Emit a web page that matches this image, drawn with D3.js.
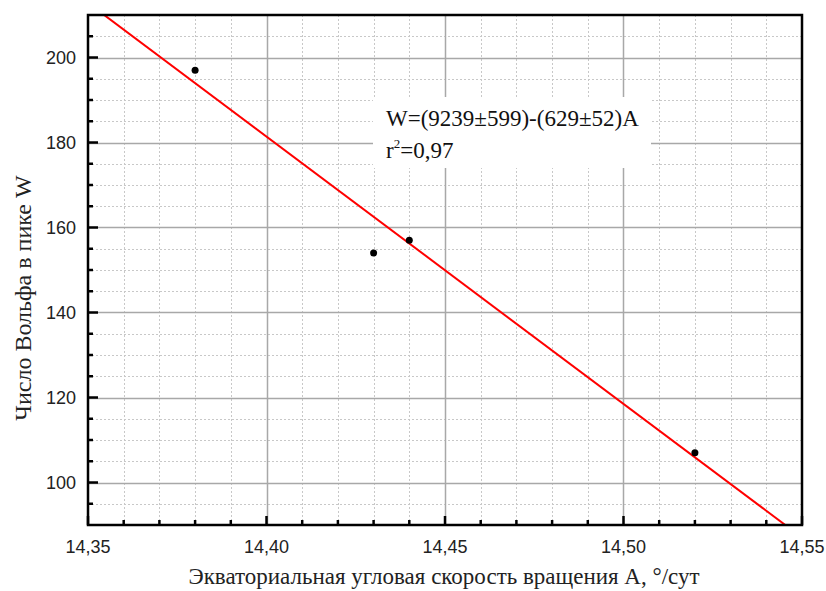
<!DOCTYPE html>
<html>
<head>
<meta charset="utf-8">
<script src="https://cdnjs.cloudflare.com/ajax/libs/d3/7.8.5/d3.min.js"></script>
<style>
  body { margin: 0; background: #fff; }
  svg { display: block; }
</style>
</head>
<body>
<svg id="chart" width="826" height="591"></svg>
<script>
// measured points
var rotationA = [14.38, 14.43, 14.44, 14.52];
var wolfW = [197, 154, 157, 107];
// fit W = a + b*A
var fitCoef = [9239, -629];
var xTicks = [14.35, 14.40, 14.45, 14.50, 14.55];
var yTicks = [100, 120, 140, 160, 180, 200];
var fitLines = ["W=(9239\u00b1599)-(629\u00b152)A", "r", "=0,97"];

(function() {
var pLeft = 88, pRight = 802, pTop = 15, pBottom = 525;
var svg = d3.select("#chart");

var x = d3.scaleLinear().domain([14.35, 14.55]).range([pLeft, pRight]);
var y = d3.scaleLinear().domain([90, 210]).range([pBottom, pTop]);

var xMinor = d3.range(14.36, 14.55, 0.01).filter(function(v) {
  return Math.abs(v * 20 - Math.round(v * 20)) > 1e-6;
});
var yMinor = d3.range(95, 210, 5).filter(function(v) { return v % 20 != 0; });
var xMajorInner = xTicks.slice(1, -1);

// grid
var grid = svg.append("g");
grid.selectAll(".vminor").data(xMinor).enter().append("line")
  .attr("x1", function(d) { return Math.round(x(d)) + 0.5; })
  .attr("x2", function(d) { return Math.round(x(d)) + 0.5; })
  .attr("y1", pTop).attr("y2", pBottom)
  .attr("stroke", "#c8c8c8").attr("stroke-dasharray", "2,2");
grid.selectAll(".hminor").data(yMinor).enter().append("line")
  .attr("y1", function(d) { return Math.round(y(d)) + 0.5; })
  .attr("y2", function(d) { return Math.round(y(d)) + 0.5; })
  .attr("x1", pLeft).attr("x2", pRight)
  .attr("stroke", "#c8c8c8").attr("stroke-dasharray", "2,2");
grid.selectAll(".vmajor").data(xMajorInner).enter().append("line")
  .attr("x1", function(d) { return Math.round(x(d)) + 0.5; })
  .attr("x2", function(d) { return Math.round(x(d)) + 0.5; })
  .attr("y1", pTop).attr("y2", pBottom)
  .attr("stroke", "#a8a8a8").attr("stroke-width", 1.5);
grid.selectAll(".hmajor").data(yTicks).enter().append("line")
  .attr("y1", function(d) { return Math.round(y(d)) + 0.5; })
  .attr("y2", function(d) { return Math.round(y(d)) + 0.5; })
  .attr("x1", pLeft).attr("x2", pRight)
  .attr("stroke", "#a8a8a8").attr("stroke-width", 1.5);

// white box behind the equation
svg.append("rect")
  .attr("x", 373).attr("y", 97).attr("width", 278).attr("height", 71)
  .attr("fill", "#fff");

// fit line, clipped to the frame
svg.append("clipPath").attr("id", "plotClip").append("rect")
  .attr("x", pLeft).attr("y", pTop).attr("width", pRight - pLeft).attr("height", pBottom - pTop);
var fitX = x.domain();
svg.append("line")
  .attr("clip-path", "url(#plotClip)")
  .attr("x1", x(fitX[0])).attr("y1", y(fitCoef[0] + fitCoef[1] * fitX[0]))
  .attr("x2", x(fitX[1])).attr("y2", y(fitCoef[0] + fitCoef[1] * fitX[1]))
  .attr("stroke", "#ff0000").attr("stroke-width", 2);

// points
svg.selectAll(".pt").data(rotationA).enter().append("circle")
  .attr("cx", function(d) { return x(d); })
  .attr("cy", function(d, i) { return y(wolfW[i]); })
  .attr("r", 3.5).attr("fill", "#000");

// frame
svg.append("rect")
  .attr("x", pLeft).attr("y", pTop).attr("width", pRight - pLeft).attr("height", pBottom - pTop)
  .attr("fill", "none").attr("stroke", "#000").attr("stroke-width", 2.5);

// ticks (pointing inward)
var ticks = svg.append("g").attr("stroke", "#000").attr("stroke-width", 2.5);
ticks.selectAll(".xt").data(xTicks).enter().append("line")
  .attr("x1", function(d) { return x(d); }).attr("x2", function(d) { return x(d); })
  .attr("y1", pBottom).attr("y2", pBottom - 9);
ticks.selectAll(".xm").data(xMinor).enter().append("line")
  .attr("x1", function(d) { return x(d); }).attr("x2", function(d) { return x(d); })
  .attr("y1", pBottom).attr("y2", pBottom - 5);
ticks.selectAll(".yt").data(yTicks).enter().append("line")
  .attr("y1", function(d) { return y(d); }).attr("y2", function(d) { return y(d); })
  .attr("x1", pLeft).attr("x2", pLeft + 10);
ticks.selectAll(".ym").data(yMinor).enter().append("line")
  .attr("y1", function(d) { return y(d); }).attr("y2", function(d) { return y(d); })
  .attr("x1", pLeft).attr("x2", pLeft + 5);

// tick labels
var fmt = function(d) { return d3.format(".2f")(d).replace(".", ","); };
svg.selectAll(".xl").data(xTicks).enter().append("text")
  .attr("x", function(d) { return x(d); }).attr("y", 553)
  .attr("text-anchor", "middle")
  .style("font", "18px 'Liberation Sans', Arial, sans-serif")
  .attr("fill", "#222")
  .text(fmt);
svg.selectAll(".yl").data(yTicks).enter().append("text")
  .attr("x", 76).attr("y", function(d) { return y(d) + 6; })
  .attr("text-anchor", "end")
  .style("font", "18px 'Liberation Sans', Arial, sans-serif")
  .attr("fill", "#222")
  .text(function(d) { return d; });

// axis titles
svg.append("text")
  .attr("x", 444).attr("y", 584)
  .attr("text-anchor", "middle")
  .style("font", "23px 'Liberation Serif', 'Times New Roman', serif")
  .attr("fill", "#222")
  .text("Экваториальная угловая скорость вращения A, \u00b0/сут");
svg.append("text")
  .attr("transform", "translate(31,298) rotate(-90)")
  .attr("text-anchor", "middle")
  .style("font", "24px 'Liberation Serif', 'Times New Roman', serif")
  .attr("fill", "#222")
  .text("Число Вольфа в пике W");

// equation
var eq = svg.append("g")
  .style("font", "23px 'Liberation Serif', 'Times New Roman', serif")
  .attr("fill", "#111");
eq.append("text").attr("x", 386).attr("y", 126).text(fitLines[0]);
var t2 = eq.append("text").attr("x", 386).attr("y", 158);
t2.append("tspan").text(fitLines[1]);
t2.append("tspan").attr("dy", -10).style("font-size", "13px").text("2");
t2.append("tspan").attr("dy", 10).text(fitLines[2]);
})();
</script>
</body>
</html>
